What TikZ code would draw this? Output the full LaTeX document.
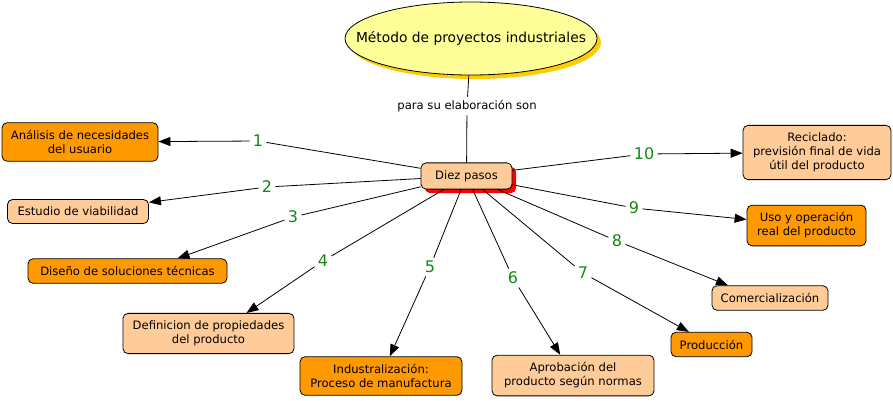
\documentclass[tikz,border=0pt]{standalone}
\usepackage{fontspec}
\setmainfont{DejaVu Sans}
\usetikzlibrary{shapes.geometric,shadows,arrows.meta}
\definecolor{cmorange}{RGB}{255,153,0}
\definecolor{cmpeach}{RGB}{255,204,153}
\definecolor{cmyellow}{RGB}{255,255,153}
\definecolor{cmgold}{RGB}{255,204,0}
\definecolor{cmgreen}{RGB}{20,135,20}
\tikzset{
  concept/.style={draw, rounded corners=5pt, align=center, line width=0.8pt,
    inner xsep=8pt, inner ysep=7.5pt, font=\fontsize{11.6}{14}\selectfont},
  hot/.style={concept, fill=cmorange},
  soft/.style={concept, fill=cmpeach},
  num/.style={text=cmgreen, inner sep=3pt, font=\fontsize{16}{16}\selectfont},
  phrase/.style={inner sep=3pt, font=\fontsize{11.6}{14}\selectfont},
  arr/.style={-{Triangle[length=12pt,width=9pt]}},
}
\begin{document}
\begin{tikzpicture}[x=1pt,y=-1pt,line width=0.8pt]
\useasboundingbox (0,0) rectangle (893,400);

\node (met) at (471,38.5) [draw, ellipse, fill=cmyellow, minimum width=252, minimum height=73,
  inner xsep=-28pt, inner ysep=0pt,
  drop shadow={fill=cmgold, opacity=1, shadow xshift=4pt, shadow yshift=-4pt},
  font=\fontsize{13.8}{16}\selectfont] {Método de proyectos industriales};
\node (para) at (467,106) [phrase] {para su elaboración son};
\node (dp) at (466.5,176) [soft, minimum width=91, minimum height=26,
  drop shadow={fill=red, opacity=1, shadow xshift=4pt, shadow yshift=-4pt}] {Diez pasos};

\node (ana) at (80,142) [hot, minimum width=156] {Análisis de necesidades\\del usuario};
\node (est) at (78,211.5) [soft, minimum width=141] {Estudio de viabilidad};
\node (dis) at (127.5,271) [hot, minimum width=199] {Diseño de soluciones técnicas};
\node (def) at (208.5,333.5) [soft, minimum width=171] {Definicion de propiedades\\del producto};
\node (ind) at (381,376) [hot, minimum width=162] {Industralización:\\Proceso de manufactura};
\node (apr) at (573,375.5) [soft, minimum width=162] {Aprobación del\\producto según normas};
\node (pro) at (711.5,344.5) [hot, minimum width=81] {Producción};
\node (com) at (770,298) [soft, minimum width=116] {Comercialización};
\node (uso) at (806.5,225.5) [hot, minimum width=119] {Uso y operación\\real del producto};
\node (rec) at (817,152.5) [soft, minimum width=148] {Reciclado:\\previsión final de vida\\útil del producto};

\node (n1) at (258,141) [num] {1};
\node (n2) at (267,187) [num] {2};
\node (n3) at (293,217) [num] {3};
\node (n4) at (323,261) [num] {4};
\node (n5) at (430,267) [num] {5};
\node (n6) at (513,278) [num] {6};
\node (n7) at (583,273) [num] {7};
\node (n8) at (617,241) [num] {8};
\node (n9) at (634,208) [num] {9};
\node (n10) at (644,154) [num] {10};

\draw (met) -- (para);
\draw (para) -- (dp);
\draw (dp) -- (n1) edge[arr] (ana);
\draw (dp) -- (n2) edge[arr] (est);
\draw (dp) -- (n3) edge[arr] ([xshift=50pt]dis.north);
\draw (dp) -- (n4) edge[arr] ([xshift=38pt]def.north);
\draw (dp) -- (n5) edge[arr] (ind);
\draw (dp) -- (n6) edge[arr] (apr);
\draw (dp) -- (n7) edge[arr] (pro);
\draw (dp) -- (n8) edge[arr] ([xshift=-42pt]com.north);
\draw (dp) -- (n9) edge[arr] (uso);
\draw (dp) -- (n10) edge[arr] (rec);
\end{tikzpicture}
\end{document}
